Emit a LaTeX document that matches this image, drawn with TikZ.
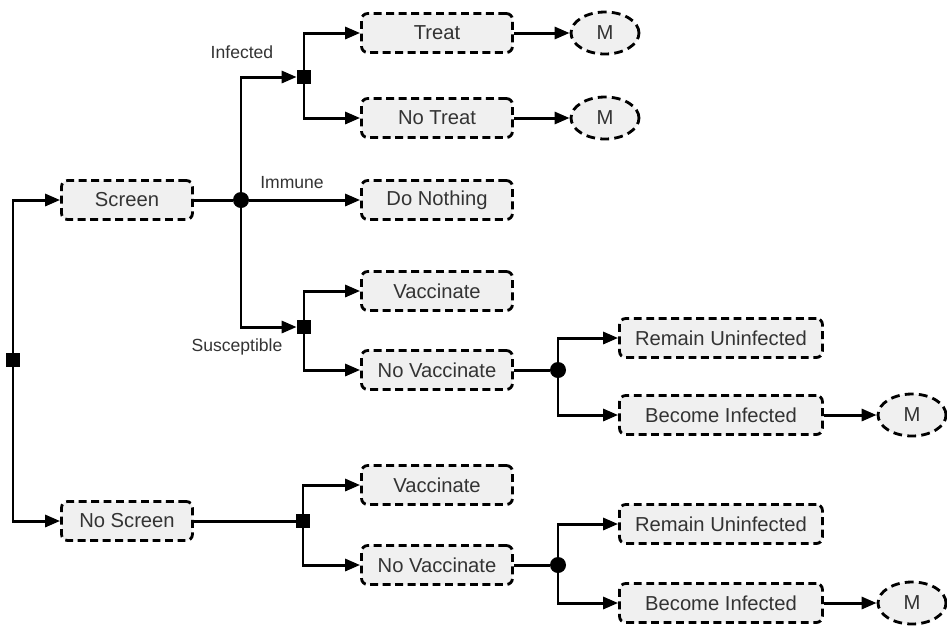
\documentclass[tikz,border=0pt]{standalone}
\usepackage{fontspec}
\setmainfont{Liberation Sans}
\usetikzlibrary{arrows.meta,shapes.geometric}
\begin{document}
\begin{tikzpicture}[x=0.02cm,y=-0.02cm,
        box/.style={draw,line width=1.6pt,dash pattern=on 4.5pt off 2.6pt,rounded corners=3.5pt,fill=gray!12,
            minimum width=3.02cm,minimum height=0.78cm,text=black!80,font=\fontsize{11.5}{13}\selectfont},
        bigbox/.style={box,minimum width=4.06cm},
        mnode/.style={ellipse,draw,line width=1.6pt,dash pattern=on 5pt off 3pt,fill=gray!12,
            minimum width=1.36cm,minimum height=0.84cm,inner sep=0pt,text=black!80,font=\fontsize{11.5}{13}\selectfont},
        dec/.style={rectangle,fill=black,minimum size=0.28cm,inner sep=0pt},
        chance/.style={circle,fill=black,minimum size=0.32cm,inner sep=0pt},
        lbl/.style={text=black!80,font=\fontsize{10}{12}\selectfont},
        line/.style={line width=1.7pt},
        arr/.style={line,-{Triangle[length=0.3cm,width=0.24cm]}}]
        \useasboundingbox(0,0)rectangle(947,627);
        % decision and chance points
        \node[dec](root)at(13,360){};
        \node[chance](c1)at(241,200){};
        \node[dec](d1)at(304,77){};
        \node[dec](d2)at(304,327){};
        \node[chance](c2)at(558,370){};
        \node[dec](d3)at(303,521){};
        \node[chance](c3)at(558,565){};
        % boxes
        \node[box,minimum width=2.62cm](screen)at(127,200){Screen};
        \node[box,minimum width=2.62cm](noscreen)at(127,521){No Screen};
        \node[box](treat)at(437,33){Treat};
        \node[box](notreat)at(437,118){No Treat};
        \node[box](nothing)at(437,200){Do Nothing};
        \node[box](vacc1)at(437,291){Vaccinate};
        \node[box](novacc1)at(437,370){No Vaccinate};
        \node[bigbox](remain1)at(721,338){Remain Uninfected};
        \node[bigbox](become1)at(721,415){Become Infected};
        \node[box](vacc2)at(437,485){Vaccinate};
        \node[box](novacc2)at(437,565){No Vaccinate};
        \node[bigbox](remain2)at(721,524){Remain Uninfected};
        \node[bigbox](become2)at(721,603){Become Infected};
        \node[mnode](m1)at(605,33){M};
        \node[mnode](m2)at(605,118){M};
        \node[mnode](m3)at(912,415){M};
        \node[mnode](m4)at(912,603){M};
        % labels
        \node[lbl](infected)at(242,52){Infected};
        \node[lbl](immune)at(292,183){Immune};
        \node[lbl](susceptible)at(237,347){Susceptible};

        \draw[arr](root)|-(screen);
        \draw[arr](root)|-(noscreen);
        \draw[line](screen)--(c1);
        \draw[arr](c1)|-(d1);
        \draw[arr](c1)--(nothing);
        \draw[arr](c1)|-(d2);
        \draw[arr](d1)|-(treat);
        \draw[arr](d1)|-(notreat);
        \draw[arr](treat)--(m1);
        \draw[arr](notreat)--(m2);
        \draw[arr](d2)|-(vacc1);
        \draw[arr](d2)|-(novacc1);
        \draw[line](novacc1)--(c2);
        \draw[arr](c2)|-(remain1);
        \draw[arr](c2)|-(become1);
        \draw[arr](become1)--(m3);
        \draw[line](noscreen)--(d3);
        \draw[arr](d3)|-(vacc2);
        \draw[arr](d3)|-(novacc2);
        \draw[line](novacc2)--(c3);
        \draw[arr](c3)|-(remain2);
        \draw[arr](c3)|-(become2);
        \draw[arr](become2)--(m4);
    \end{tikzpicture}
\end{document}
